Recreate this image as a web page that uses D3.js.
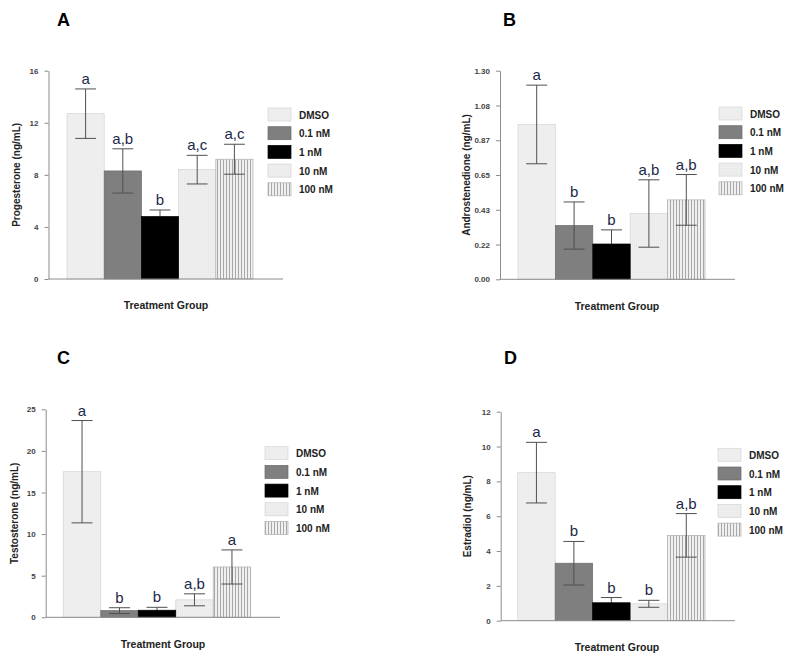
<!DOCTYPE html>
<html>
<head>
<meta charset="utf-8">
<script src="https://cdn.jsdelivr.net/npm/d3@7"></script>
<style>
html,body{margin:0;padding:0;background:#fff;}
svg{display:block;}
text{font-family:"Liberation Sans",Arial,sans-serif;}
</style>
</head>
<body>
<svg id="chart" width="800" height="658"></svg>
<script>
// ---------- DATA ----------
const groups = ["DMSO", "0.1 nM", "1 nM", "10 nM", "100 nM"];

const progesterone = [12.7, 8.3, 4.8, 8.4, 9.2];
const progesteroneErr = [1.9, 1.7, 0.5, 1.1, 1.15];
const progesteroneLetters = ["a", "a,b", "b", "a,c", "a,c"];
const progesteroneTicks = [0, 4, 8, 12, 16];
const progesteroneTickLabels = ["0", "4", "8", "12", "16"];

const androstenedione = [0.965, 0.335, 0.22, 0.41, 0.495];
const androstenedioneErr = [0.245, 0.147, 0.088, 0.21, 0.158];
const androstenedioneLetters = ["a", "b", "b", "a,b", "a,b"];
const androstenedioneTicks = [0, 0.2167, 0.4333, 0.65, 0.8667, 1.0833, 1.3];
const androstenedioneTickLabels = ["0.00", "0.22", "0.43", "0.65", "0.87", "1.08", "1.30"];

const testosterone = [17.5, 0.8, 0.85, 2.1, 6.05];
const testosteroneErr = [6.15, 0.35, 0.35, 0.72, 2.05];
const testosteroneLetters = ["a", "b", "b", "a,b", "a"];
const testosteroneTicks = [0, 5, 10, 15, 20, 25];
const testosteroneTickLabels = ["0", "5", "10", "15", "20", "25"];

const estradiol = [8.5, 3.3, 1.03, 0.97, 4.9];
const estradiolErr = [1.74, 1.25, 0.3, 0.2, 1.25];
const estradiolLetters = ["a", "b", "b", "b", "a,b"];
const estradiolTicks = [0, 2, 4, 6, 8, 10, 12];
const estradiolTickLabels = ["0", "2", "4", "6", "8", "10", "12"];

const panelLabels = ["A", "B", "C", "D"];
const yTitles = ["Progesterone (ng/mL)", "Androstenedione (ng/mL)", "Testosterone (ng/mL)", "Estradiol (ng/mL)"];
const xTitle = "Treatment Group";

// ---------- LAYOUT ----------
const panels = [
  {label: panelLabels[0], title: yTitles[0], values: progesterone, err: progesteroneErr, letters: progesteroneLetters,
   ticks: progesteroneTicks, tickLabels: progesteroneTickLabels, max: 16,
   axisX: 48.5, yTop: 70.7, yBot: 279, axisEnd: 283, barL: 67, barR: 253,
   legX: 268, legY: 108, letX: 57, letY: 25.5, ytX: 17, tgX: 166, tgY: 309},
  {label: panelLabels[1], title: yTitles[1], values: androstenedione, err: androstenedioneErr, letters: androstenedioneLetters,
   ticks: androstenedioneTicks, tickLabels: androstenedioneTickLabels, max: 1.3,
   axisX: 500, yTop: 70.7, yBot: 279.3, axisEnd: 735, barL: 518, barR: 705,
   legX: 719, legY: 107, letX: 503, letY: 25.5, ytX: 467, tgX: 617, tgY: 310},
  {label: panelLabels[2], title: yTitles[2], values: testosterone, err: testosteroneErr, letters: testosteroneLetters,
   ticks: testosteroneTicks, tickLabels: testosteroneTickLabels, max: 25,
   axisX: 45.7, yTop: 409.3, yBot: 617.3, axisEnd: 280, barL: 63.3, barR: 250.7,
   legX: 265, legY: 446.7, letX: 57, letY: 363.5, ytX: 15, tgX: 163, tgY: 648},
  {label: panelLabels[3], title: yTitles[3], values: estradiol, err: estradiolErr, letters: estradiolLetters,
   ticks: estradiolTicks, tickLabels: estradiolTickLabels, max: 12,
   axisX: 500.7, yTop: 411.7, yBot: 620.7, axisEnd: 735, barL: 517.7, barR: 705,
   legX: 718, legY: 448.3, letX: 504, letY: 363.5, ytX: 468, tgX: 617, tgY: 651}
];

const svg = d3.select("#chart");
const defs = svg.append("defs");

// faint dotted pattern for 10 nM
const dots = defs.append("pattern").attr("id", "dots").attr("patternUnits", "userSpaceOnUse")
  .attr("width", 2).attr("height", 2);
dots.append("rect").attr("width", 2).attr("height", 2).attr("fill", "#efefef");
dots.append("rect").attr("width", 1).attr("height", 1).attr("fill", "#e6e6e6");

// vertical lines for 100 nM
const vlines = defs.append("pattern").attr("id", "vlines").attr("patternUnits", "userSpaceOnUse")
  .attr("width", 3).attr("height", 3);
vlines.append("rect").attr("width", 3).attr("height", 3).attr("fill", "#f0f0f0");
vlines.append("rect").attr("x", 1).attr("width", 1).attr("height", 3).attr("fill", "#a8a8a8");

const fills = ["#eeeeee", "#7f7f7f", "#000000", "url(#dots)", "url(#vlines)"];
const strokes = ["#d4d4d4", "#6a6a6a", "#000000", "#d4d4d4", "#b0b0b0"];
const onTop = [false, false, true, false, false]; // black bar hides its error line
const axisColor = "#8c8c8c";
const errColor = "#505050";
const letterColor = "#1c2848";

panels.forEach(p => {
  const g = svg.append("g");
  const x = d3.scaleBand().domain(groups).range([p.barL, p.barR]).padding(0);
  const y = d3.scaleLinear().domain([0, p.max]).range([p.yBot, p.yTop]);

  const drawBars = sel => sel.append("rect")
    .attr("x", d => x(d))
    .attr("width", x.bandwidth())
    .attr("y", d => y(p.values[groups.indexOf(d)]))
    .attr("height", d => y(0) - y(p.values[groups.indexOf(d)]))
    .attr("fill", d => fills[groups.indexOf(d)])
    .attr("stroke", d => strokes[groups.indexOf(d)])
    .attr("stroke-width", 0.7);

  // bars (under error bars)
  drawBars(g.selectAll("rect.bar").data(groups.filter((d, i) => !onTop[i])).enter());

  // error bars
  const capW = x.bandwidth() * 0.56;
  groups.forEach((d, i) => {
    const cx = x(d) + x.bandwidth() / 2;
    const hi = y(p.values[i] + p.err[i]);
    const lo = y(Math.max(0, p.values[i] - p.err[i]));
    g.append("line").attr("x1", cx).attr("x2", cx).attr("y1", hi).attr("y2", lo)
      .attr("stroke", errColor).attr("stroke-width", 1);
    [hi, lo].forEach(yy => g.append("line").attr("x1", cx - capW / 2).attr("x2", cx + capW / 2)
      .attr("y1", yy).attr("y2", yy).attr("stroke", errColor).attr("stroke-width", 1));
    g.append("text").attr("x", cx).attr("y", hi - 5)
      .attr("text-anchor", "middle").attr("font-size", 15).attr("fill", letterColor)
      .text(p.letters[i]);
  });

  // black bar drawn over its error line
  drawBars(g.selectAll("rect.top").data(groups.filter((d, i) => onTop[i])).enter());

  // y axis
  const yAxis = d3.axisLeft(y).tickValues(p.ticks)
    .tickFormat((d, i) => p.tickLabels[i]).tickSize(4).tickSizeOuter(0).tickPadding(6);
  const ya = g.append("g").attr("transform", `translate(${p.axisX},0)`).call(yAxis);
  ya.select(".domain").attr("stroke", axisColor);
  ya.selectAll(".tick line").attr("stroke", axisColor);
  ya.selectAll(".tick text").attr("font-size", 8).attr("font-weight", "bold").attr("fill", "#444")
    .attr("font-family", "Liberation Sans, Arial, sans-serif");

  // x axis line
  g.append("line").attr("x1", p.axisX).attr("x2", p.axisEnd).attr("y1", y(0)).attr("y2", y(0))
    .attr("stroke", axisColor).attr("stroke-width", 1);

  // titles
  g.append("text").attr("transform", `translate(${p.ytX},${(p.yTop + p.yBot) / 2}) rotate(-90)`)
    .attr("text-anchor", "middle").attr("dominant-baseline", "middle")
    .attr("font-size", 10).attr("font-weight", "bold").attr("fill", "#222").text(p.title);
  g.append("text").attr("x", p.tgX).attr("y", p.tgY).attr("text-anchor", "middle")
    .attr("font-size", 10.5).attr("font-weight", "bold").attr("fill", "#222").text(xTitle);
  g.append("text").attr("x", p.letX).attr("y", p.letY)
    .attr("font-size", 18).attr("font-weight", "bold").attr("fill", "#000").text(p.label);

  // legend
  const step = 18.7;
  groups.forEach((d, i) => {
    const yy = p.legY + i * step;
    g.append("rect").attr("x", p.legX).attr("y", yy).attr("width", 23).attr("height", 13)
      .attr("fill", fills[i]).attr("stroke", strokes[i]).attr("stroke-width", 0.7);
    g.append("text").attr("x", p.legX + 31).attr("y", yy + 10.5)
      .attr("font-size", 10).attr("font-weight", "bold").attr("fill", "#222").text(d);
  });
});
</script>
</body>
</html>
